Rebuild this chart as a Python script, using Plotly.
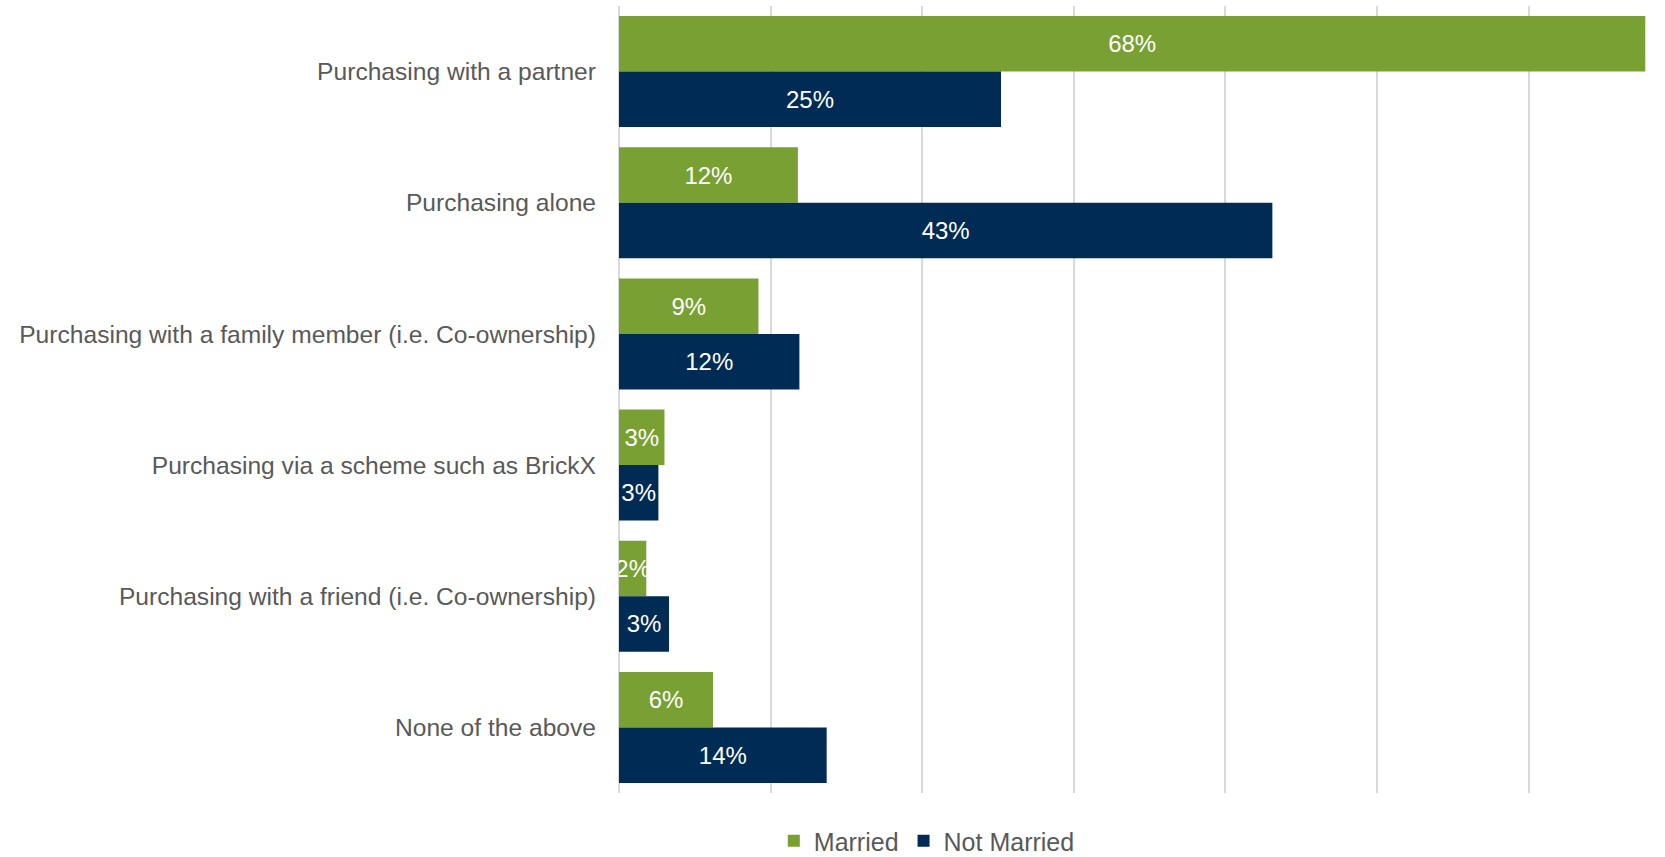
import plotly.graph_objects as go

categories = [
    "Purchasing with a partner",
    "Purchasing alone",
    "Purchasing with a family member (i.e. Co-ownership)",
    "Purchasing via a scheme such as BrickX",
    "Purchasing with a friend (i.e. Co-ownership)",
    "None of the above",
]
married = [67.7, 11.8, 9.2, 3.0, 1.8, 6.2]
not_married = [25.2, 43.1, 11.9, 2.6, 3.3, 13.7]

GREEN = "#78A032"
NAVY = "#002B54"
GREY_TEXT = "#595959"
GRID = "#D9D9D9"
FONT = "Liberation Sans, Arial, sans-serif"

fig = go.Figure()
for name, vals, color in [("Married", married, GREEN), ("Not Married", not_married, NAVY)]:
    fig.add_trace(go.Bar(
        y=categories,
        x=vals,
        name=name,
        orientation="h",
        marker=dict(color=color, line=dict(width=0)),
        texttemplate="%{x:.0f}%",
        textposition="inside",
        insidetextanchor="middle",
        textangle=0,
        textfont=dict(color="white", size=24, family=FONT),
        hoverinfo="skip",
    ))

fig.update_layout(
    width=1665,
    height=857,
    barmode="group",
    bargap=0.154,
    bargroupgap=0,
    plot_bgcolor="white",
    paper_bgcolor="white",
    margin=dict(l=619, r=0, t=6, b=64, autoexpand=False),
    font=dict(family=FONT, size=24, color=GREY_TEXT),
    uniformtext=dict(minsize=24, mode="show"),
    showlegend=True,
    legend=dict(
        orientation="h",
        xref="paper",
        yref="paper",
        x=0.148,
        xanchor="left",
        y=-0.061,
        yanchor="middle",
        font=dict(size=25, color=GREY_TEXT, family=FONT),
        itemwidth=30,
        traceorder="normal",
    ),
    xaxis=dict(
        range=[0, 69],
        dtick=10,
        showticklabels=False,
        showgrid=True,
        gridcolor=GRID,
        gridwidth=2,
        zeroline=True,
        zerolinecolor=GRID,
        zerolinewidth=2,
        showline=False,
        fixedrange=True,
    ),
    yaxis=dict(
        autorange="reversed",
        showgrid=False,
        showline=False,
        ticks="",
        ticklabelstandoff=22,
        tickfont=dict(size=24.6, color=GREY_TEXT, family=FONT),
        fixedrange=True,
    ),
)

fig.write_html("out.html")
